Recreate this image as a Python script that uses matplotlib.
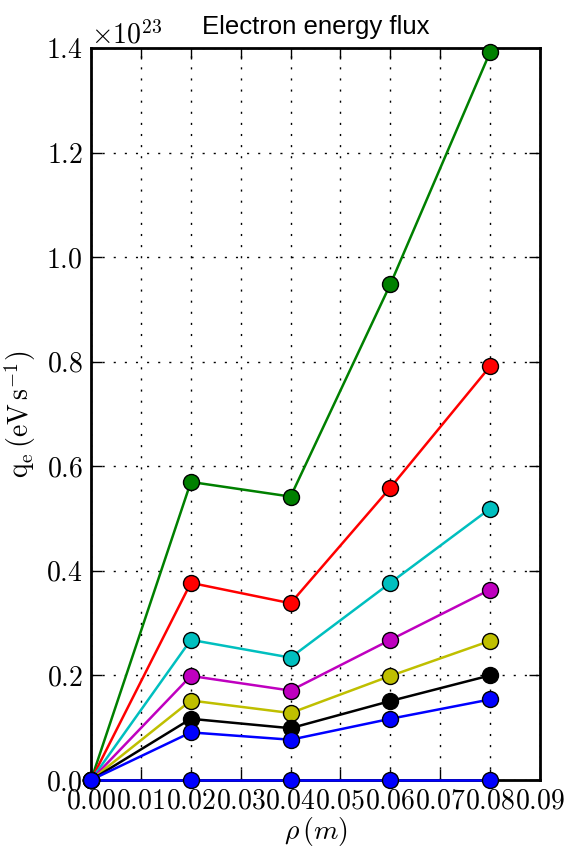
import matplotlib
matplotlib.use("Agg")
import matplotlib.pyplot as plt
from matplotlib.ticker import ScalarFormatter, MultipleLocator

# -------------------------------
# Data
# -------------------------------
rho = [0.0, 0.02, 0.04, 0.06, 0.08]

q_zero = [0.0, 0.0, 0.0, 0.0, 0.0]
q_green = [0.0, 0.570e23, 0.542e23, 0.948e23, 1.392e23]
q_red = [0.0, 0.377e23, 0.338e23, 0.559e23, 0.791e23]
q_cyan = [0.0, 0.268e23, 0.234e23, 0.377e23, 0.519e23]
q_magenta = [0.0, 0.199e23, 0.171e23, 0.268e23, 0.364e23]
q_yellow = [0.0, 0.152e23, 0.128e23, 0.199e23, 0.266e23]
q_black = [0.0, 0.117e23, 0.099e23, 0.151e23, 0.200e23]
q_blue = [0.0, 0.091e23, 0.077e23, 0.117e23, 0.154e23]

series = [q_zero, q_green, q_red, q_cyan, q_magenta, q_yellow, q_black, q_blue]
colors = ['b', 'g', 'r', 'c', 'm', 'y', 'k', 'b']

# -------------------------------
# Style
# -------------------------------
plt.rcParams['font.family'] = ['cmr10', 'DejaVu Serif']
plt.rcParams['mathtext.fontset'] = 'cm'
plt.rcParams['axes.formatter.use_mathtext'] = True
plt.rcParams['xtick.direction'] = 'in'
plt.rcParams['ytick.direction'] = 'in'

fig = plt.figure(figsize=(5.66, 8.49), dpi=100)
ax = fig.add_axes([0.161, 0.0813, 0.793, 0.8622])

for ys, c in zip(series, colors):
    ax.plot(rho, ys, '-o', color=c, lw=1.8, markersize=11.5,
            markeredgecolor='k', markeredgewidth=1.0, clip_on=False, zorder=3)

ax.set_xlim(0, 0.09)
ax.set_ylim(0, 1.4e23)
ax.xaxis.set_major_locator(MultipleLocator(0.01))
ax.yaxis.set_major_locator(MultipleLocator(0.2e23))

fmt = ScalarFormatter(useMathText=True)
fmt.set_powerlimits((-3, 3))
ax.yaxis.set_major_formatter(fmt)
ax.xaxis.set_major_formatter(ScalarFormatter(useMathText=True))

ax.tick_params(axis='both', which='major', labelsize=20, length=8, width=1,
               top=True, right=True, pad=6)
ax.yaxis.get_offset_text().set_fontsize(20)

for s in ax.spines.values():
    s.set_linewidth(2.0)

ax.grid(True, color='k', linestyle=(0, (1.5, 6.5)), linewidth=1.0)

ax.set_title("Electron energy flux", family='Liberation Sans', fontsize=18.5, pad=10)
ax.set_xlabel(r"$\rho\,(m)$", fontsize=20, labelpad=0)
ax.set_ylabel(r"$\mathrm{q_e\,(eV\,s^{-1})}$", fontsize=20, labelpad=6)

fig.savefig("out.png", dpi=100)
